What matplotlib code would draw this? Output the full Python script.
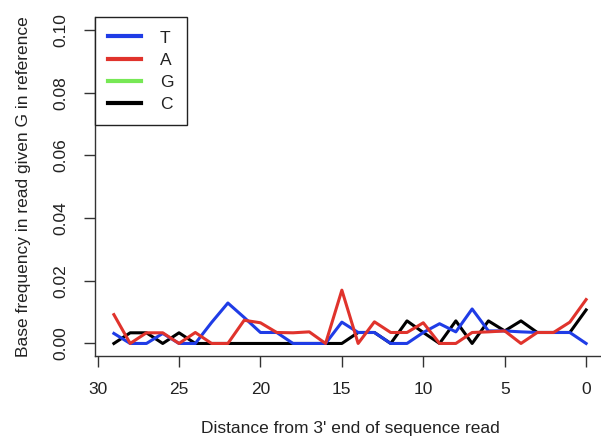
#!/usr/bin/env python3
"""
Base frequency in reads at G reference positions, by distance from the 3' end
"""

import matplotlib
matplotlib.use('Agg')
import matplotlib.pyplot as plt
from matplotlib.lines import Line2D

plt.rcParams['font.family'] = ['Liberation Sans', 'DejaVu Sans']

# distance from 3' end, 29 down to 0
dist = list(range(29, -1, -1))

freq_T = [0.0032, 0.0, 0.0, 0.0032, 0.0, 0.0, 0.0067, 0.0129, 0.0083, 0.0035,
          0.0035, 0.0, 0.0, 0.0, 0.0068, 0.0035, 0.0035, 0.0, 0.0, 0.0035,
          0.0063, 0.0037, 0.011, 0.004, 0.004, 0.0037, 0.0035, 0.0035, 0.0035, 0.0]
freq_A = [0.0092, 0.0, 0.0034, 0.0034, 0.0, 0.0035, 0.0, 0.0, 0.0074, 0.0066,
          0.0035, 0.0034, 0.0037, 0.0, 0.017, 0.0, 0.0069, 0.0035, 0.0035, 0.0066,
          0.0, 0.0, 0.0035, 0.0037, 0.004, 0.0, 0.0035, 0.0035, 0.0068, 0.014]
freq_C = [0.0, 0.0034, 0.0034, 0.0, 0.0034, 0.0, 0.0, 0.0, 0.0, 0.0,
          0.0, 0.0, 0.0, 0.0, 0.0, 0.0035, 0.0035, 0.0, 0.0072, 0.0035,
          0.0, 0.0072, 0.0, 0.0072, 0.004, 0.0072, 0.0035, 0.0035, 0.0035, 0.0107]

col_T = '#1f3ce6'
col_A = '#e0332c'
col_G = '#77e855'
col_C = '#000000'

fig = plt.figure(figsize=(6.01, 4.40), dpi=100)
ax = fig.add_axes([95 / 601, (440 - 356) / 440, 510 / 601, (356 - 17.4) / 440])

ax.plot(dist, freq_C, color=col_C, linewidth=2.2)
ax.plot(dist, freq_T, color=col_T, linewidth=2.2)
ax.plot(dist, freq_A, color=col_A, linewidth=2.2)

ax.set_xlim(30.16, -1.16)
ax.set_ylim(-0.004, 0.104)

ax.set_xticks([30, 25, 20, 15, 10, 5, 0])
ax.set_yticks([0.0, 0.02, 0.04, 0.06, 0.08, 0.10])
ax.set_yticklabels(['0.00', '0.02', '0.04', '0.06', '0.08', '0.10'],
                   rotation=90, va='center')

for s in ['top', 'right']:
    ax.spines[s].set_visible(False)
for s in ['left', 'bottom']:
    ax.spines[s].set_linewidth(1.0)
    ax.spines[s].set_color('#333333')

ax.tick_params(axis='both', direction='out', length=8, width=1.0,
               color='#333333', labelsize=12.5, labelcolor='#222222')
ax.tick_params(axis='x', pad=11)
ax.tick_params(axis='y', pad=11)

ax.set_xlabel("Distance from 3' end of sequence read", fontsize=12.5,
              color='#222222', labelpad=17)
ax.set_ylabel('Base frequency in read given G in reference', fontsize=12.5,
              color='#222222', labelpad=16)

handles = [Line2D([], [], color=c, linewidth=3.0) for c in [col_T, col_A, col_G, col_C]]
leg = ax.legend(handles, ['T', 'A', 'G', 'C'], loc='upper left',
                bbox_to_anchor=(0, 1), borderaxespad=0, fontsize=12.5,
                handlelength=1.9, handletextpad=1.1, labelspacing=0.4,
                borderpad=0.75, fancybox=False, framealpha=1)
leg.get_frame().set_edgecolor('#222222')
leg.get_frame().set_linewidth(1.0)
for t in leg.get_texts():
    t.set_color('#222222')

plt.savefig('out.png', dpi=100)
